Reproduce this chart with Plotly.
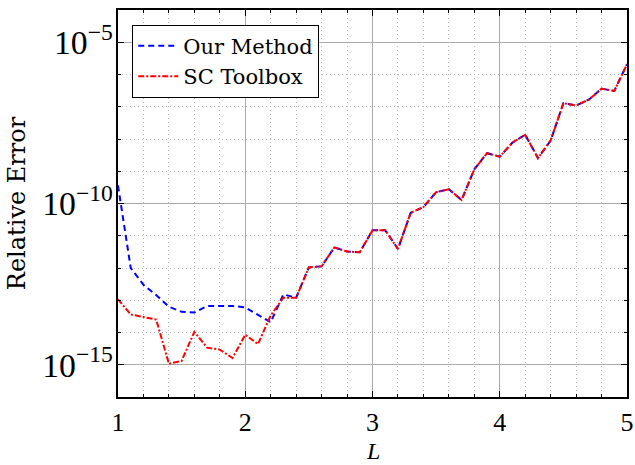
import numpy as np
import plotly.graph_objects as go

L_vals = [1.0, 1.1, 1.2, 1.3, 1.4, 1.5, 1.6, 1.7, 1.8, 1.9, 2.0,
          2.1, 2.2, 2.3, 2.4, 2.5, 2.6, 2.7, 2.8, 2.9, 3.0,
          3.1, 3.2, 3.3, 3.4, 3.5, 3.6, 3.7, 3.8, 3.9, 4.0,
          4.1, 4.2, 4.3, 4.4, 4.5, 4.6, 4.7, 4.8, 4.9, 5.0]

# log10 of relative error
our_log = [-9.44, -12.0, -12.52, -12.84, -13.2, -13.36, -13.38, -13.18, -13.18, -13.18, -13.22,
           -13.44, -13.68, -12.82, -12.92, -11.98, -11.95, -11.36, -11.49, -11.51, -10.83,
           -10.83, -11.41, -10.29, -10.11, -9.65, -9.56, -9.89, -8.94, -8.44, -8.55,
           -8.11, -7.87, -8.59, -8.05, -6.89, -6.96, -6.78, -6.44, -6.51, -5.68]

sc_log = [-12.97, -13.44, -13.52, -13.6, -14.97, -14.88, -13.98, -14.47, -14.53, -14.79, -14.07,
          -14.36, -13.47, -12.92, -12.92, -11.98, -11.95, -11.36, -11.49, -11.51, -10.83,
          -10.83, -11.41, -10.29, -10.11, -9.65, -9.56, -9.89, -8.94, -8.44, -8.55,
          -8.11, -7.87, -8.59, -8.05, -6.89, -6.96, -6.78, -6.44, -6.51, -5.68]

our_err = [10 ** v for v in our_log]
sc_err = [10 ** v for v in sc_log]

TEXT_FONT = "DejaVu Serif"
NUM_FONT = "Liberation Serif"

fig = go.Figure()
fig.add_trace(go.Scatter(x=L_vals, y=our_err, mode="lines", name="Our Method",
                         line=dict(color="#0000ff", width=2, dash="6px,4px")))
fig.add_trace(go.Scatter(x=L_vals, y=sc_err, mode="lines", name="SC Toolbox",
                         line=dict(color="#ff0000", width=2, dash="6px,2px,2px,2px")))

fig.update_layout(
    width=635, height=465,
    margin=dict(l=118, r=8, t=10, b=68),
    paper_bgcolor="white", plot_bgcolor="white",
    font=dict(family=TEXT_FONT, size=21, color="black"),
    showlegend=True,
    legend=dict(x=0.028, y=0.962, xanchor="left", yanchor="top",
                bgcolor="white", bordercolor="black", borderwidth=1,
                font=dict(family=TEXT_FONT, size=21), tracegroupgap=0,
                itemwidth=40),
)

fig.update_xaxes(
    range=[1, 5], tickmode="linear", tick0=1, dtick=1, automargin=False,
    showline=True, linecolor="black", linewidth=1.5, mirror="ticks",
    ticks="inside", ticklen=6, tickcolor="black", tickwidth=1.2,
    showgrid=True, gridcolor="#aaaaaa", gridwidth=1,
    zeroline=False, ticklabelstandoff=1,
    tickfont=dict(family=NUM_FONT, size=26),
    minor=dict(dtick=0.2, tick0=1, ticks="inside", ticklen=3, tickcolor="black",
               showgrid=True, gridcolor="#b8b8b8", griddash="1px,3px", gridwidth=1),
)

fig.add_annotation(text="<i>L</i>", xref="paper", yref="paper", x=0.5, y=-0.139,
                   xanchor="center", yanchor="middle", showarrow=False,
                   font=dict(family=NUM_FONT, size=24, color="black"))

fig.update_yaxes(
    type="log", range=[-16, -4], dtick=5, tick0=0, automargin=False,
    exponentformat="power", ticklabelstandoff=-2,
    showline=True, linecolor="black", linewidth=1.5, mirror="ticks",
    ticks="inside", ticklen=6, tickcolor="black", tickwidth=1.2,
    showgrid=True, gridcolor="#aaaaaa", gridwidth=1,
    zeroline=False,
    tickfont=dict(family=NUM_FONT, size=27),
    minor=dict(dtick=1, ticks="inside", ticklen=3, tickcolor="black",
               showgrid=True, gridcolor="#b8b8b8", griddash="1px,3px", gridwidth=1),
    title=dict(text="Relative Error", font=dict(family=TEXT_FONT, size=24), standoff=10),
)

fig.write_html("out.html")
